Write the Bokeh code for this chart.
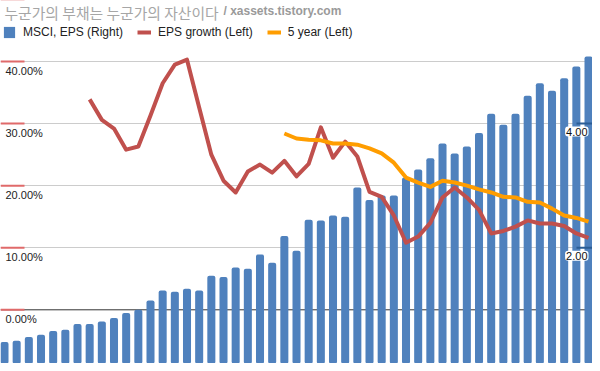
import math
from bokeh.plotting import figure
from bokeh.models import (Range1d, Grid, FixedTicker, Span, Legend, LegendItem,
                          Label, ColumnDataSource)
from bokeh.embed import file_html
from bokeh.resources import INLINE
from bokeh.core.properties import value

# ---------------- data ----------------
# MSCI EPS (right axis), one value per quarter
msci_eps = [0.48, 0.50, 0.56, 0.60, 0.66, 0.68, 0.77, 0.77, 0.81, 0.87,
            0.95, 1.00, 1.15, 1.31, 1.29, 1.34, 1.31, 1.55, 1.53, 1.68,
            1.66, 1.89, 1.76, 2.19, 1.95, 2.45, 2.44, 2.52, 2.50, 2.97,
            2.77, 2.84, 2.84, 3.13, 3.26, 3.44, 3.68, 3.52, 3.63, 3.85,
            4.16, 3.98, 4.16, 4.45, 4.65, 4.53, 4.73, 4.92, 5.08]
# EPS growth (left axis, %) starts at the 8th quarter
eps_growth = [33.9, 30.6, 29.2, 25.8, 26.3, 31.3, 36.5, 39.5, 40.3, 32.6,
              25.0, 20.8, 18.9, 22.3, 23.4, 22.1, 24.0, 21.5, 23.5, 29.4,
              24.5, 27.1, 24.7, 19.0, 18.2, 15.2, 10.8, 11.8, 14.0, 18.1,
              19.7, 18.1, 16.1, 12.3, 12.7, 13.4, 14.4, 13.9, 13.9, 13.5,
              12.3, 11.6]
growth_start = 7
# 5 year average (left axis, %) starts at the 24th quarter
five_year = [28.4, 27.6, 27.4, 27.3, 26.8, 26.8, 26.6, 26.0, 25.2, 23.7,
             21.3, 20.5, 19.8, 20.8, 20.5, 20.0, 19.4, 18.9, 18.2, 18.1,
             17.4, 17.3, 16.3, 15.2, 14.8, 14.2]
five_start = 23

left_tick_marks = [0, 10, 20, 30, 40, 50]
left_ticks = [0, 10, 20, 30, 40]
left_labels = ["0.00%", "10.00%", "20.00%", "30.00%", "40.00%"]
right_ticks = [2, 4]
right_labels = ["2.00", "4.00"]

title_kr = "누군가의 부채는 누군가의 자산이다"
title_url = "/ xassets.tistory.com"
legend_labels = ["MSCI, EPS (Right)", "EPS growth (Left)", "5 year (Left)"]

# ---------------- build ----------------
n = len(msci_eps)
quarters = list(range(n))
nan = float("nan")
growth_full = [nan] * growth_start + eps_growth
five_full = [nan] * five_start + five_year

W, H = 592, 363
px_per_q = 12.167
x_start = -4 / px_per_q
x_end = x_start + W / px_per_q

p = figure(width=W, height=H, output_backend="svg", toolbar_location=None,
           x_range=Range1d(x_start, x_end), y_range=Range1d(-8.65, 49.83),
           x_axis_type=None, y_axis_type=None, min_border=0,
           outline_line_color=None, background_fill_color="white")
p.extra_y_ranges = {"right": Range1d(0.135, 5.983)}

p.add_layout(Grid(dimension=1, ticker=FixedTicker(ticks=[10, 20, 30, 40, 50]),
                  grid_line_color="#cccccc", grid_line_width=1))
p.add_layout(Span(location=0, dimension="width", line_color="#333333",
                  line_width=1, level="underlay"))

src = ColumnDataSource(dict(x=quarters, eps=msci_eps, growth=growth_full, five=five_full))

bars = p.vbar(x="x", top="eps", bottom=0, width=0.66, source=src,
              y_range_name="right", fill_color="#4f81bd", line_color=None,
              border_radius=2)
red = p.line(x="x", y="growth", source=src, line_color="#c0504d",
             line_width=4, line_join="round")
orange = p.line(x="x", y="five", source=src, line_color="#ff9d00",
                line_width=4, line_join="round")

# left axis tick marks and labels (inside plot)
ltm = ColumnDataSource(dict(x0=[x_start] * len(left_tick_marks),
                            x1=[x_start + 24 / px_per_q] * len(left_tick_marks),
                            y=left_tick_marks))
p.segment(x0="x0", y0="y", x1="x1", y1="y", source=ltm,
          line_color="#e06a6a", line_width=2)
lt = ColumnDataSource(dict(x=[x_start] * len(left_ticks), y=left_ticks,
                           label=left_labels))
p.text(x="x", y="y", text="label", source=lt, x_offset=5, y_offset=3,
       text_align="left", text_baseline="top", text_font=value("Liberation Sans"),
       text_font_size="11px", text_color="#222222")

# right axis tick marks and labels (inside plot)
rt = ColumnDataSource(dict(x0=[x_end - 16 / px_per_q] * len(right_ticks),
                           x1=[x_end] * len(right_ticks),
                           y=right_ticks, label=right_labels))
p.segment(x0="x0", y0="y", x1="x1", y1="y", source=rt, y_range_name="right",
          line_color="#2a5d95", line_width=2)
p.text(x="x1", y="y", text="label", source=rt, y_range_name="right",
       x_offset=-4, y_offset=3, text_align="right", text_baseline="top",
       text_font=value("Liberation Sans"), text_font_size="11px",
       text_color="#111111", background_fill_color="white", padding=1,
       border_radius=3)

# title (overlaid)
p.add_layout(Label(x=4, y=H - 1, x_units="screen", y_units="screen",
                   text=title_kr, text_baseline="top",
                   text_font="Noto Sans CJK KR", text_font_size="14.8px",
                   text_color="#a6a6a6"))
p.add_layout(Label(x=223, y=H - 3, x_units="screen", y_units="screen",
                   text=title_url, text_baseline="top",
                   text_font="Liberation Sans", text_font_style="bold",
                   text_font_size="12px", text_color="#9a9a9a"))

legend = Legend(items=[LegendItem(label=legend_labels[0], renderers=[bars]),
                       LegendItem(label=legend_labels[1], renderers=[red]),
                       LegendItem(label=legend_labels[2], renderers=[orange])],
                location=(2, H - 25 - 14), orientation="horizontal",
                glyph_width=14, glyph_height=14, label_standoff=7, spacing=14,
                padding=0, margin=0, border_line_color=None,
                background_fill_alpha=0, label_text_font="Liberation Sans",
                label_text_font_size="12px", label_text_color="#222222")
p.add_layout(legend)

open("out.html", "w").write(file_html(p, INLINE))
